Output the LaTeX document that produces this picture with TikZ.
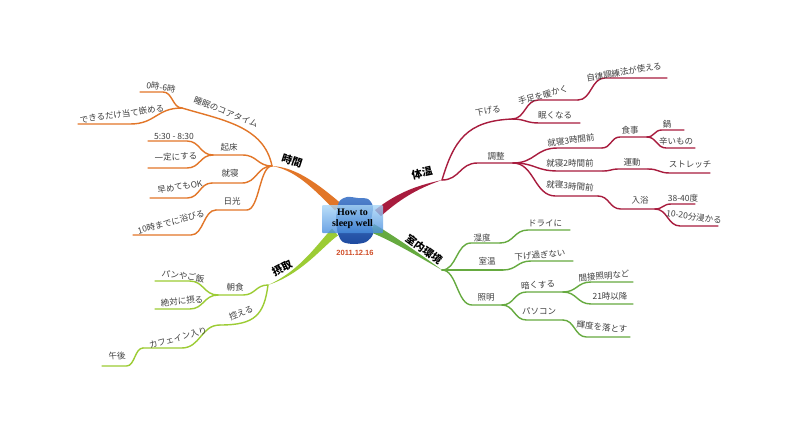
\documentclass[tikz,border=0pt]{standalone}
\usepackage{fontspec}
\setmainfont{Noto Sans CJK JP}
\newfontfamily\rootfont{Liberation Serif}
\newfontfamily\datefont{Liberation Sans}
\usetikzlibrary{calc}

\definecolor{timecol}{RGB}{226,118,40}
\definecolor{bodycol}{RGB}{168,28,62}
\definecolor{roomcol}{RGB}{102,170,64}
\definecolor{intakecol}{RGB}{156,204,52}
\definecolor{datecol}{RGB}{208,78,40}
\definecolor{boxtop}{RGB}{170,215,248}
\definecolor{boxbot}{RGB}{70,140,222}
\definecolor{blobtop}{RGB}{80,130,205}
\definecolor{blobbot}{RGB}{30,75,160}

\begin{document}
\begin{tikzpicture}[x=1pt,y=-1pt,
    twig/.style={to path={let \p1=(\tikztostart), \p2=(\tikztotarget) in
        .. controls ({\x1+0.5*#1*(\x2-\x1)},\y1) and ({\x1+0.5*#1*(\x2-\x1)},\y2)
        .. ({\x1+#1*(\x2-\x1)},\y2) -- (\tikztotarget)}},
    twig/.default=0.45,
    limb/.style={line width=1.4pt, line cap=round},
    leaf/.style={inner sep=0pt, text=black!75, font=\fontsize{8.5}{9}\selectfont},
    topic/.style={inner sep=0pt, font=\fontsize{10.5}{11}\selectfont\bfseries}]

    %sheet
        \fill[white] (0,0) rectangle (800,440);
        \useasboundingbox (0,0) rectangle (800,440);

    %mark hubs and limb ends
        \coordinate (tHub) at (272,166);
        \coordinate (bHub) at (442,180);
        \coordinate (kHub) at (442,270);
        \coordinate (sHub) at (268,285);
        \coordinate (tA) at (341,203.5);
        \coordinate (tB) at (335,210.5);
        \coordinate (bA) at (375,210);
        \coordinate (bB) at (381,216);
        \coordinate (kA) at (374,224);
        \coordinate (kB) at (370,232);
        \coordinate (sA) at (332,228.6);
        \coordinate (sB) at (338,235.4);

    %mark branch points
        \coordinate (t1) at (182,108);
        \coordinate (t11) at (140,92);
        \coordinate (t12) at (78,124);
        \coordinate (t2) at (213,155);
        \coordinate (t21) at (148,141);
        \coordinate (t22) at (148,168);
        \coordinate (t3) at (212,183);
        \coordinate (t31) at (150,198);
        \coordinate (t4) at (216,210);
        \coordinate (t41) at (133,235);

        \coordinate (b1) at (512,119);
        \coordinate (b11) at (578,100);
        \coordinate (b111) at (667,78);
        \coordinate (b12) at (580,123);
        \coordinate (b2) at (513,163);
        \coordinate (b21) at (602,148);
        \coordinate (b211) at (647,137);
        \coordinate (b2111) at (684,130);
        \coordinate (b2112) at (695,148);
        \coordinate (b22) at (603,171);
        \coordinate (b221) at (648,169);
        \coordinate (b2211) at (710,173);
        \coordinate (b23) at (598,196);
        \coordinate (b231) at (655,209);
        \coordinate (b2311) at (695,204);
        \coordinate (b2312) at (718,226);

        \coordinate (k1) at (500,243);
        \coordinate (k11) at (570,230);
        \coordinate (k2) at (503,270);
        \coordinate (k21) at (573,261);
        \coordinate (k3) at (502,305);
        \coordinate (k31) at (563,292);
        \coordinate (k311) at (633,282);
        \coordinate (k312) at (633,304);
        \coordinate (k32) at (563,320);
        \coordinate (k321) at (630,337);

        \coordinate (s1) at (218,295);
        \coordinate (s11) at (155,281);
        \coordinate (s12) at (155,309);
        \coordinate (s2) at (220,325);
        \coordinate (s21) at (143,348);
        \coordinate (s211) at (102,366);

    %thick limbs
        \fill[timecol] (tHub) .. controls (295,167) and (317,183) .. (tA) -- (tB) .. controls (313,188) and (295,170) .. (tHub);
        \fill[bodycol] (bHub) .. controls (415,186) and (397,193) .. (bA) -- (bB) .. controls (399,200) and (416,189) .. (bHub);
        \fill[roomcol] (kHub) .. controls (416,251) and (394,236) .. (kA) -- (kB) .. controls (390,240) and (414,254) .. (kHub);
        \fill[intakecol] (sHub) .. controls (300,271) and (318,243) .. (sA) -- (sB) .. controls (322,247) and (302,274) .. (sHub);

    %thin branches
        \draw[limb, timecol] (tHub) .. controls +(-8,-40) and +(40,12) .. (t1);
        \foreach \a/\b/\f in {t1/t11/0.45, t1/t12/0.5, tHub/t2/0.5, t2/t21/0.4, t2/t22/0.4,
                tHub/t3/0.5, t3/t31/0.4, tHub/t4/0.45, t4/t41/0.3}
            \draw[limb, timecol, twig=\f] (\a) to (\b);

        \draw[limb, bodycol] (bHub) .. controls +(12,-40) and +(-45,2) .. (b1);
        \foreach \a/\b/\f in {b1/b11/0.4, b11/b111/0.3, b1/b12/0.4, bHub/b2/0.5,
                b2/b21/0.5, b21/b211/0.4, b211/b2111/0.4, b211/b2112/0.4,
                b2/b22/0.5, b22/b221/0.35, b221/b2211/0.35,
                b2/b23/0.5, b23/b231/0.4, b231/b2311/0.4, b231/b2312/0.4}
            \draw[limb, bodycol, twig=\f] (\a) to (\b);

        \foreach \a/\b/\f in {kHub/k1/0.5, k1/k11/0.4, kHub/k2/0.5, k2/k21/0.4,
                kHub/k3/0.5, k3/k31/0.4, k31/k311/0.4, k31/k312/0.4,
                k3/k32/0.4, k32/k321/0.35}
            \draw[limb, roomcol, twig=\f] (\a) to (\b);

        \draw[limb, intakecol] (sHub) .. controls +(-4,30) and +(35,0) .. (s2);
        \foreach \a/\b/\f in {sHub/s1/0.5, s1/s11/0.45, s1/s12/0.45,
                s2/s21/0.5, s21/s211/0.4}
            \draw[limb, intakecol, twig=\f] (\a) to (\b);

    %centre
        \shade[top color=blobtop, bottom color=blobbot] plot[smooth cycle] coordinates
            {(339,202) (347,197) (358,198) (368,199) (373,207) (371,222) (373,234) (366,242) (354,244) (343,242) (338,234) (336,218)};
        \node[rounded corners=1pt, top color=boxtop, bottom color=boxbot, fill opacity=0.8, text opacity=1,
            minimum width=61pt, minimum height=28pt, align=center, inner sep=0pt,
            font=\rootfont\bfseries\fontsize{10}{10.5}\selectfont] (root) at (352.5,219) {How to\\sleep well};
        \node[text=datecol, font=\datefont\bfseries\fontsize{7.5}{8}\selectfont] (date) at (355,253) {2011.12.16};

    %topic labels
        \node[topic, rotate=-18] (tL) at (292,161) {時間};
        \node[topic, rotate=12] (bL) at (422,173) {体温};
        \node[topic, rotate=-36] (kL) at (424,249.5) {室内環境};
        \node[topic, rotate=28] (sL) at (282,268) {摂取};

    %branch labels
        \node[leaf, rotate=-21] (t1L) at (226,112) {睡眠のコアタイム};
        \node[leaf, rotate=-8] (t11L) at (161,87) {0時-6時};
        \node[leaf, rotate=8] (t12L) at (122,114) {できるだけ当て嵌める};
        \node[leaf] (t2L) at (229,147) {起床};
        \node[leaf] (t21L) at (174,136) {5:30 - 8:30};
        \node[leaf, rotate=3] (t22L) at (176,157) {一定にする};
        \node[leaf] (t3L) at (230,173) {就寝};
        \node[leaf, rotate=10] (t31L) at (180,187) {早めてもOK};
        \node[leaf] (t4L) at (232,201) {日光};
        \node[leaf, rotate=15] (t41L) at (171,222) {10時までに浴びる};

        \node[leaf, rotate=12] (b1L) at (488,111) {下げる};
        \node[leaf, rotate=15] (b11L) at (543,95) {手足を暖かく};
        \node[leaf, rotate=10] (b111L) at (624,72) {自律調練法が使える};
        \node[leaf] (b12L) at (555,115) {眠くなる};
        \node[leaf] (b2L) at (496,156) {調整};
        \node[leaf, rotate=7] (b21L) at (571,140) {就寝3時間前};
        \node[leaf] (b211L) at (630,130) {食事};
        \node[leaf] (b2111L) at (667,124) {鍋};
        \node[leaf] (b2112L) at (676,141) {辛いもの};
        \node[leaf] (b22L) at (570,163) {就寝2時間前};
        \node[leaf] (b221L) at (632,162) {運動};
        \node[leaf] (b2211L) at (690,165) {ストレッチ};
        \node[leaf, rotate=-5] (b23L) at (570,186) {就寝3時間前};
        \node[leaf] (b231L) at (640,200) {入浴};
        \node[leaf] (b2311L) at (683,198) {38-40度};
        \node[leaf, rotate=-8] (b2312L) at (694,217) {10-20分浸かる};

        \node[leaf, rotate=5] (k1L) at (482,238) {湿度};
        \node[leaf] (k11L) at (545,223) {ドライに};
        \node[leaf] (k2L) at (487,261) {室温};
        \node[leaf, rotate=5] (k21L) at (540,255) {下げ過ぎない};
        \node[leaf] (k3L) at (486,297) {照明};
        \node[leaf, rotate=5] (k31L) at (538,285) {暗くする};
        \node[leaf, rotate=5] (k311L) at (604,276) {間接照明など};
        \node[leaf] (k312L) at (610,296) {21時以降};
        \node[leaf] (k32L) at (539,311) {パソコン};
        \node[leaf, rotate=-6] (k321L) at (602,327) {輝度を落とす};

        \node[leaf] (s1L) at (235,287) {朝食};
        \node[leaf, rotate=-8] (s11L) at (183,276) {パンやご飯};
        \node[leaf, rotate=5] (s12L) at (182,301) {絶対に摂る};
        \node[leaf, rotate=22] (s2L) at (241,313) {控える};
        \node[leaf, rotate=15] (s21L) at (178,338) {カフェイン入り};
        \node[leaf, rotate=5] (s211L) at (117,356) {午後};

\end{tikzpicture}
\end{document}
